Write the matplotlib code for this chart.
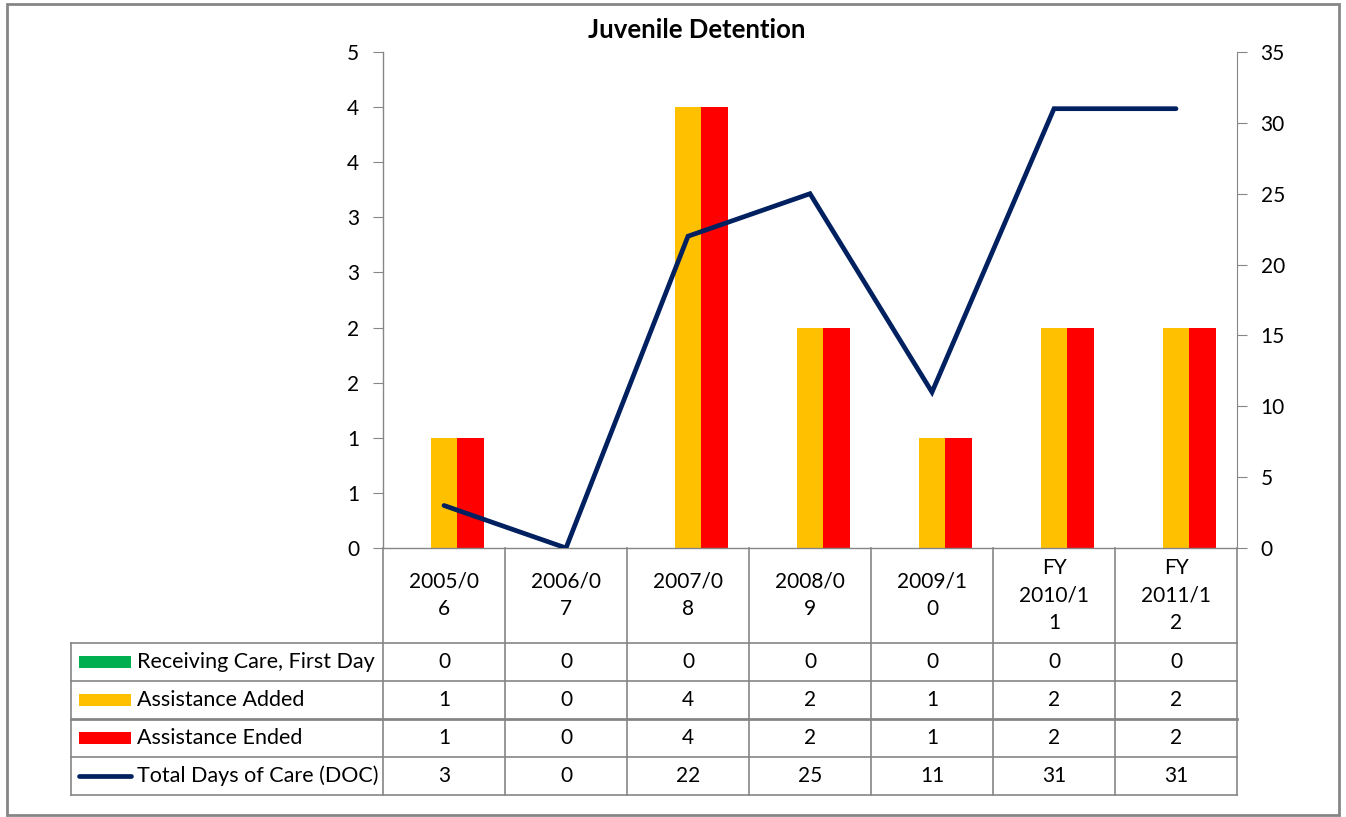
import numpy as np
import matplotlib.pyplot as plt
from matplotlib.patches import Rectangle
from matplotlib.ticker import FuncFormatter, MultipleLocator

plt.rcParams['font.family'] = ['Lato', 'DejaVu Sans']

# -----------------------------
# DATA
# -----------------------------
categories = ["2005/0\n6", "2006/0\n7", "2007/0\n8", "2008/0\n9", "2009/1\n0",
              "FY\n2010/1\n1", "FY\n2011/1\n2"]
receiving_care = [0, 0, 0, 0, 0, 0, 0]
assistance_added = [1, 0, 4, 2, 1, 2, 2]
assistance_ended = [1, 0, 4, 2, 1, 2, 2]
total_doc = [3, 0, 22, 25, 11, 31, 31]

series_names = ["Receiving Care, First Day", "Assistance Added",
                "Assistance Ended", "Total Days of Care (DOC)"]
bar_colors = ["#00B050", "#FFC000", "#FF0000"]
line_color = "#002060"
grid_gray = "#868686"

# -----------------------------
# FIGURE
# -----------------------------
W, H = 1346, 817
fig = plt.figure(figsize=(W / 100, H / 100), dpi=100)

# plot area in pixels
px_left, px_right, px_top, px_bottom = 383, 1237, 52, 548
ax = fig.add_axes([px_left / W, 1 - px_bottom / H,
                   (px_right - px_left) / W, (px_bottom - px_top) / H])

n = len(categories)
x = np.arange(n)
bw = 0.22
ax.bar(x - bw, receiving_care, bw, color=bar_colors[0])
ax.bar(x, assistance_added, bw, color=bar_colors[1])
ax.bar(x + bw, assistance_ended, bw, color=bar_colors[2])

ax.set_xlim(-0.5, n - 0.5)
ax.set_ylim(0, 4.5)
ax.yaxis.set_major_locator(MultipleLocator(0.5))
ax.yaxis.set_major_formatter(FuncFormatter(lambda v, p: str(int(np.floor(v + 0.5 + 1e-9)))))
ax.set_xticks([])
for s in ['top', 'right']:
    ax.spines[s].set_visible(False)
for s in ['left', 'bottom']:
    ax.spines[s].set_color(grid_gray)
    ax.spines[s].set_linewidth(1)
ax.tick_params(axis='y', direction='out', length=7, color=grid_gray,
               labelsize=15, pad=10)

ax2 = ax.twinx()
ax2.plot(x, total_doc, color=line_color, lw=3.4, solid_capstyle='round',
         solid_joinstyle='miter')
ax2.set_ylim(0, 35)
ax2.yaxis.set_major_locator(MultipleLocator(5))
for s in ['top', 'left', 'bottom']:
    ax2.spines[s].set_visible(False)
ax2.spines['right'].set_color(grid_gray)
ax2.tick_params(axis='y', direction='out', length=7, color=grid_gray,
                labelsize=15, pad=10)
ax2.set_xlim(-0.5, n - 0.5)

fig.text(697 / W, 1 - 30 / H, "Juvenile Detention", ha='center', va='center',
         fontsize=18.5, fontweight='bold')

# -----------------------------
# DATA TABLE
# -----------------------------
tab_left, tab_bottom = 71, 795
header_h = 95
row_h = 38
tax = fig.add_axes([0, 0, 1, 1])
tax.set_xlim(0, W)
tax.set_ylim(H, 0)
tax.axis('off')

colw = (px_right - px_left) / n
col_edges = [px_left + i * colw for i in range(n + 1)]
row_edges = [px_bottom + header_h + i * row_h for i in range(len(series_names) + 1)]

lkw = dict(color=grid_gray, lw=1.2)
# vertical column lines
for xe in col_edges:
    tax.plot([xe, xe], [px_bottom, tab_bottom], **lkw)
tax.plot([tab_left, tab_left], [row_edges[0], tab_bottom], **lkw)
# horizontal row lines
for i, ye in enumerate(row_edges):
    tax.plot([tab_left, px_right], [ye, ye], color=grid_gray,
             lw=2.0 if i == 2 else 1.2)

# header labels
for i, lab in enumerate(categories):
    tax.text(px_left + (i + 0.5) * colw, px_bottom + header_h / 2, lab,
             ha='center', va='center', fontsize=15, linespacing=1.45)

# row legend keys and labels
table_rows = [receiving_care, assistance_added, assistance_ended, total_doc]
for r, (name, vals) in enumerate(zip(series_names, table_rows)):
    yc = row_edges[r] + row_h / 2
    if r < 3:
        tax.add_patch(Rectangle((79, yc - 6), 52, 12, color=bar_colors[r], lw=0))
    else:
        tax.plot([79, 131], [yc, yc], color=line_color, lw=3.4,
                 solid_capstyle='round')
    tax.text(137, yc, name, ha='left', va='center', fontsize=15.5)
    for i, v in enumerate(vals):
        tax.text(px_left + (i + 0.5) * colw, yc, str(v), ha='center',
                 va='center', fontsize=15)

# outer chart border
tax.add_patch(Rectangle((7, 4), 1332, 811, fill=False, edgecolor=grid_gray, lw=2.0))

fig.savefig("out.png", dpi=100)
